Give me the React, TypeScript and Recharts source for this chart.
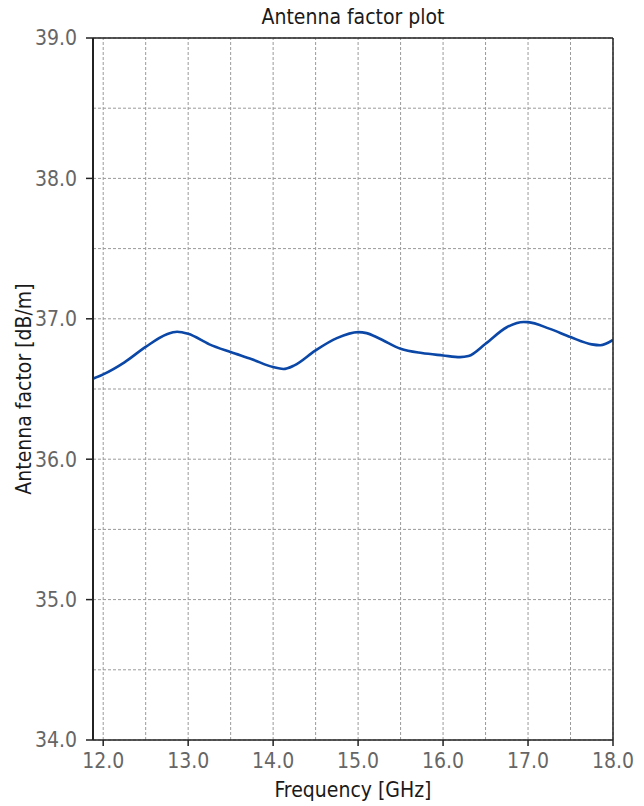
import React from 'react'
import { LineChart, Line, XAxis, YAxis, ReferenceLine, Label } from 'recharts'

// readings taken off the antenna factor curve
const frequencies = [
  11.88, 12.0, 12.25, 12.5, 12.75, 12.87, 13.0, 13.25, 13.5, 13.75, 14.0, 14.12, 14.25, 14.5,
  14.75, 15.0, 15.1, 15.25, 15.5, 15.75, 16.0, 16.2, 16.3, 16.5, 16.75, 16.95, 17.0, 17.25,
  17.5, 17.75, 17.85, 18.0,
]
const antennaFactor = [
  36.573, 36.604, 36.69, 36.8, 36.89, 36.908, 36.893, 36.818, 36.763, 36.712, 36.656, 36.642,
  36.668, 36.775, 36.862, 36.905, 36.898, 36.86, 36.787, 36.756, 36.739, 36.727, 36.735,
  36.822, 36.94, 36.977, 36.976, 36.93, 36.87, 36.818, 36.812, 36.85,
]

const xTicks = [12, 13, 14, 15, 16, 17, 18]
const yTicks = [34, 35, 36, 37, 38, 39]
const xGrid = [12, 12.5, 13, 13.5, 14, 14.5, 15, 15.5, 16, 16.5, 17, 17.5, 18]
const yGrid = [34, 34.5, 35, 35.5, 36, 36.5, 37, 37.5, 38, 38.5, 39]

const xDomain = [11.88, 18]
const yDomain = [34, 39]

const data = frequencies.map((f, i) => ({ f, af: antennaFactor[i] }))

const FONT = '"Liberation Sans Narrow", "DejaVu Sans Condensed", "Roboto", sans-serif'
const AXIS = '#222'
const GRID = '#9a9a9a'

const tickStyle = { fill: '#666', fontSize: 21, fontFamily: FONT }
const labelStyle = { fill: '#1a1a1a', fontSize: 21, fontFamily: FONT }

export default function App() {
  return (
    <div style={{ position: 'absolute', left: 0, top: 0, background: '#fff' }}>
      <LineChart width={644} height={806} data={data} margin={{ top: 0, right: 0, bottom: 0, left: 0 }}>
        {xGrid.map((v) => (
          <ReferenceLine key={`gx-${v}`} x={v} stroke={GRID} strokeDasharray="3 2" />
        ))}
        {yGrid.map((v) => (
          <ReferenceLine key={`gy-${v}`} y={v} stroke={GRID} strokeDasharray="3 2" />
        ))}

        <XAxis
          dataKey="f"
          type="number"
          domain={xDomain}
          ticks={xTicks}
          allowDataOverflow
          tickFormatter={(v: number) => v.toFixed(1)}
          height={66}
          tickSize={6}
          tickMargin={7}
          tick={tickStyle}
          axisLine={{ stroke: AXIS, strokeWidth: 1.5 }}
          tickLine={{ stroke: AXIS, strokeWidth: 1.5 }}
        >
          <Label
            content={(props: any) => {
              const vb = props.viewBox
              return (
                <text x={vb.x + vb.width / 2} y={vb.y + vb.height - 9} textAnchor="middle" style={labelStyle}>
                  Frequency [GHz]
                </text>
              )
            }}
          />
        </XAxis>
        <XAxis
          xAxisId="top"
          orientation="top"
          dataKey="f"
          type="number"
          domain={xDomain}
          allowDataOverflow
          height={38}
          tick={false}
          tickLine={false}
          axisLine={{ stroke: AXIS, strokeWidth: 1.5 }}
        >
          <Label
            content={(props: any) => {
              const vb = props.viewBox
              return (
                <text x={vb.x + vb.width / 2} y={24} textAnchor="middle" style={labelStyle}>
                  Antenna factor plot
                </text>
              )
            }}
          />
        </XAxis>

        <YAxis
          type="number"
          domain={yDomain}
          ticks={yTicks}
          allowDataOverflow
          tickFormatter={(v: number) => v.toFixed(1)}
          width={93}
          tickSize={7}
          tickMargin={9}
          tick={tickStyle}
          axisLine={{ stroke: AXIS, strokeWidth: 2 }}
          tickLine={{ stroke: AXIS, strokeWidth: 1.5 }}
        >
          <Label
            content={(props: any) => {
              const vb = props.viewBox
              const cx = 24
              const cy = vb.y + vb.height / 2
              return (
                <text
                  x={cx}
                  y={cy}
                  transform={`rotate(-90 ${cx} ${cy})`}
                  textAnchor="middle"
                  dominantBaseline="central"
                  style={labelStyle}
                >
                  Antenna factor [dB/m]
                </text>
              )
            }}
          />
        </YAxis>
        <YAxis
          yAxisId="right"
          orientation="right"
          type="number"
          domain={yDomain}
          width={31}
          tick={false}
          tickLine={false}
          axisLine={{ stroke: AXIS, strokeWidth: 1.5 }}
        />

        <Line
          type="monotone"
          dataKey="af"
          stroke="#0b47a6"
          strokeWidth={2.6}
          dot={false}
          isAnimationActive={false}
        />
      </LineChart>
    </div>
  )
}
